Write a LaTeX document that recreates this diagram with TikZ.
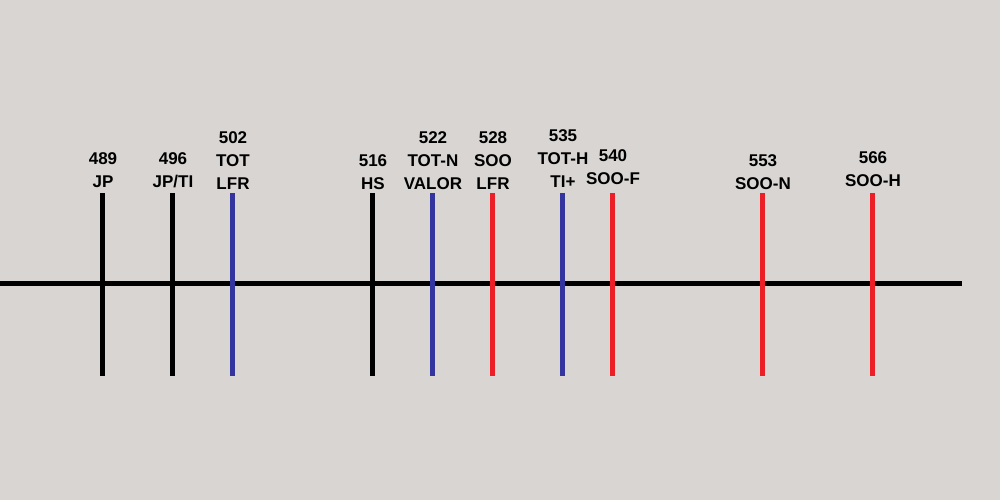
\documentclass[tikz,border=0pt]{standalone}
\usepackage{fontspec}
\setmainfont{Liberation Sans}
\definecolor{bgc}{RGB}{216,213,210}
\definecolor{tblue}{RGB}{52,52,158}
\definecolor{tred}{RGB}{236,30,38}
\begin{document}
\begin{tikzpicture}[x=1pt,y=-1pt,
  tick/.style={line width=5pt},
  lbl/.style={anchor=south,inner sep=0pt,align=center,
    font=\fontsize{17}{23}\selectfont\bfseries}]
\fill[bgc] (0,0) rectangle (1000,500);
\useasboundingbox (0,0) rectangle (1000,500);
\coordinate (L) at (0,283);
\coordinate (R) at (962,283);
\draw[tick,black] (L) -- (R);
% ticks: x, colour, baseline, text
\foreach \n/\x/\c/\b/\t in {
  a/102/black/188/{489\\JP},
  b/172/black/188/{496\\JP/TI},
  c/232/tblue/190/{502\\TOT\\LFR},
  d/372/black/190/{516\\HS},
  e/432/tblue/190/{522\\TOT-N\\VALOR},
  f/492/tred/190/{528\\SOO\\LFR},
  g/562/tblue/188/{535\\TOT-H\\TI+},
  h/612/tred/185/{540\\SOO-F},
  i/762/tred/190/{553\\SOO-N},
  j/872/tred/187/{566\\SOO-H}}{
  \coordinate (\n top) at (\x,193);
  \coordinate (\n bot) at (\x,376);
  \draw[tick,\c] (\n top) -- (\n bot);
  \node[lbl] (\n lbl) at (\x+1,\b) {\t};
}
\end{tikzpicture}
\end{document}
